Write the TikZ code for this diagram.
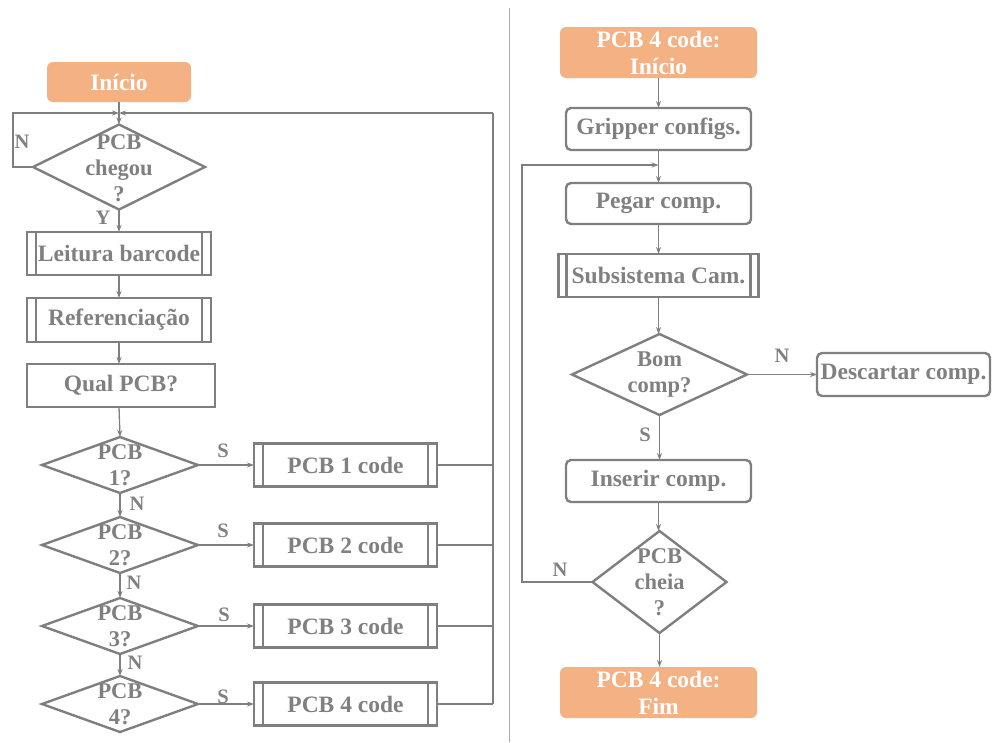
\documentclass[tikz,border=0pt]{standalone}
\usepackage{fontspec}
\setmainfont{Liberation Serif}
\usetikzlibrary{shapes.geometric,arrows.meta}
\definecolor{ink}{RGB}{127,127,127}
\definecolor{txt}{RGB}{128,128,128}
\definecolor{peach}{RGB}{244,177,131}
\definecolor{rule}{RGB}{170,170,170}
\tikzset{
  base/.style={inner sep=0pt, outer sep=0pt, font=\bfseries\fontsize{23.5}{27}\selectfont, text=txt, align=center},
  box/.style={base, draw=ink, line width=2.4pt},
  rbox/.style={box, rounded corners=5pt},
  term/.style={base, fill=peach, text=white, rounded corners=6pt},
  ppbox/.style={box, path picture={
      \draw[ink, line width=2.4pt]
        ([xshift=#1]path picture bounding box.north west) -- ([xshift=#1]path picture bounding box.south west)
        ([xshift=-#1]path picture bounding box.north east) -- ([xshift=-#1]path picture bounding box.south east);}},
  ppbox/.default=9pt,
  dec/.style={diamond, draw=ink, line width=2.4pt, inner sep=0pt, outer sep=0pt},
  dtext/.style={base, font=\bfseries\fontsize{22.5}{26}\selectfont},
  lab/.style={font=\bfseries\fontsize{20.5}{21}\selectfont, text=txt, inner sep=0pt},
  flow/.style={draw=ink, line width=1.3pt, -{Stealth[length=7pt,width=5pt]}},
  wire/.style={draw=ink, line width=1.3pt},
}
\begin{document}
\begin{tikzpicture}[x=1pt,y=-1pt]
\useasboundingbox (0,0) rectangle (992,742);

% separator between the two charts
\draw[rule, line width=1pt] (509,8) -- (509,742);

% ---------- main flow ----------
\node[term, minimum width=144pt, minimum height=40pt] (ini) at (119,82) {Início};
\node[dec, minimum width=172pt, minimum height=85pt,
      label={[dtext, yshift=-1pt]center:{PCB\\chegou\\?}}] (d0) at (119,167) {};
\node[ppbox, minimum width=184pt, minimum height=43pt] (lb) at (119,253.5) {Leitura barcode};
\node[ppbox, minimum width=184pt, minimum height=44pt] (rf) at (119,320) {Referenciação};
\node[box, minimum width=188pt, minimum height=43pt] (qp) at (121,385.5) {Qual PCB?};

\foreach \i/\y in {1/465,2/545,3/626,4/704}{
  \node[dec, minimum width=156pt, minimum height=56pt,
        label={[dtext]center:{PCB\\\i?}}] (p\i) at (120,\y) {};
  \node[ppbox, minimum width=183pt, minimum height=43pt] (c\i) at (345.5,\y) {PCB \i\ code};
}

\coordinate (top) at (119,113);
\coordinate (col) at (493,113);
\coordinate (nl) at (13,113);

\draw[flow] (ini) -- (d0);
\draw[flow] (d0.west) -- (nl|-d0.west) -- (nl) -- (top);
\draw[flow] (col) -- (top);
\draw[flow] (d0) -- (lb);
\draw[flow] (lb) -- (rf);
\draw[flow] (rf.south) -- (rf.south|-qp.north);
\draw[flow] (rf.south|-qp.south) -- (p1.north);
\draw[flow] (p1) -- (p2);
\draw[flow] (p2) -- (p3);
\draw[flow] (p3) -- (p4);
\foreach \i in {1,...,4}{
  \draw[flow] (p\i.east) -- (c\i.west);
  \draw[wire] (c\i.east) -- (col|-c\i.east);
}
\draw[wire] (col|-c4.east) -- (col);

\node[lab] at (22,142) {N};
\node[lab] at (103,218) {Y};
\node[lab] at (137,504) {N};
\node[lab] at (134,583) {N};
\node[lab] at (135,663) {N};
\node[lab] at (223,451) {S};
\node[lab] at (223,531) {S};
\node[lab] at (224,615) {S};
\node[lab] at (223,697) {S};

% ---------- PCB 4 routine ----------
\node[term, minimum width=197pt, minimum height=51pt] (s) at (658.5,52.5) {PCB 4 code:\\Início};
\node[rbox, minimum width=185pt, minimum height=42pt] (gc) at (658.5,129) {Gripper configs.};
\node[rbox, minimum width=185pt, minimum height=41pt] (pg) at (658.5,203.5) {Pegar comp.};
\node[ppbox=8pt, minimum width=200pt, minimum height=43pt] (cam) at (658.5,275.5) {Subsistema Cam.};
\node[dec, minimum width=175pt, minimum height=81pt,
      label={[dtext]center:{Bom\\comp?}}] (bom) at (659.5,374.5) {};
\node[rbox, minimum width=173pt, minimum height=43pt] (ds) at (903.5,374.5) {Descartar comp.};
\node[rbox, minimum width=185pt, minimum height=42pt] (in) at (658.5,481) {Inserir comp.};
\node[dec, minimum width=134pt, minimum height=102pt,
      label={[dtext]center:{PCB\\cheia\\?}}] (ch) at (659.5,582) {};
\node[term, minimum width=197pt, minimum height=51pt] (fim) at (658.5,692.5) {PCB 4 code:\\Fim};

\coordinate (back) at (658.5,165);
\coordinate (lx) at (522,165);

\draw[flow] (s) -- (gc);
\draw[flow] (gc) -- (pg);
\draw[flow] (pg) -- (cam);
\draw[flow] (cam.south) -- (cam.south|-bom.north);
\draw[flow] (bom.east) -- (ds.west);
\draw[flow] (bom.south) -- (bom.south|-in.north);
\draw[flow] (in.south) -- (in.south|-ch.north);
\draw[flow] (ch.south) -- (ch.south|-fim.north);
\draw[flow] (ch.west) -- (lx|-ch.west) -- (lx) -- (back);

\node[lab] at (782,356) {N};
\node[lab] at (645,435) {S};
\node[lab] at (560,570) {N};
\end{tikzpicture}
\end{document}
